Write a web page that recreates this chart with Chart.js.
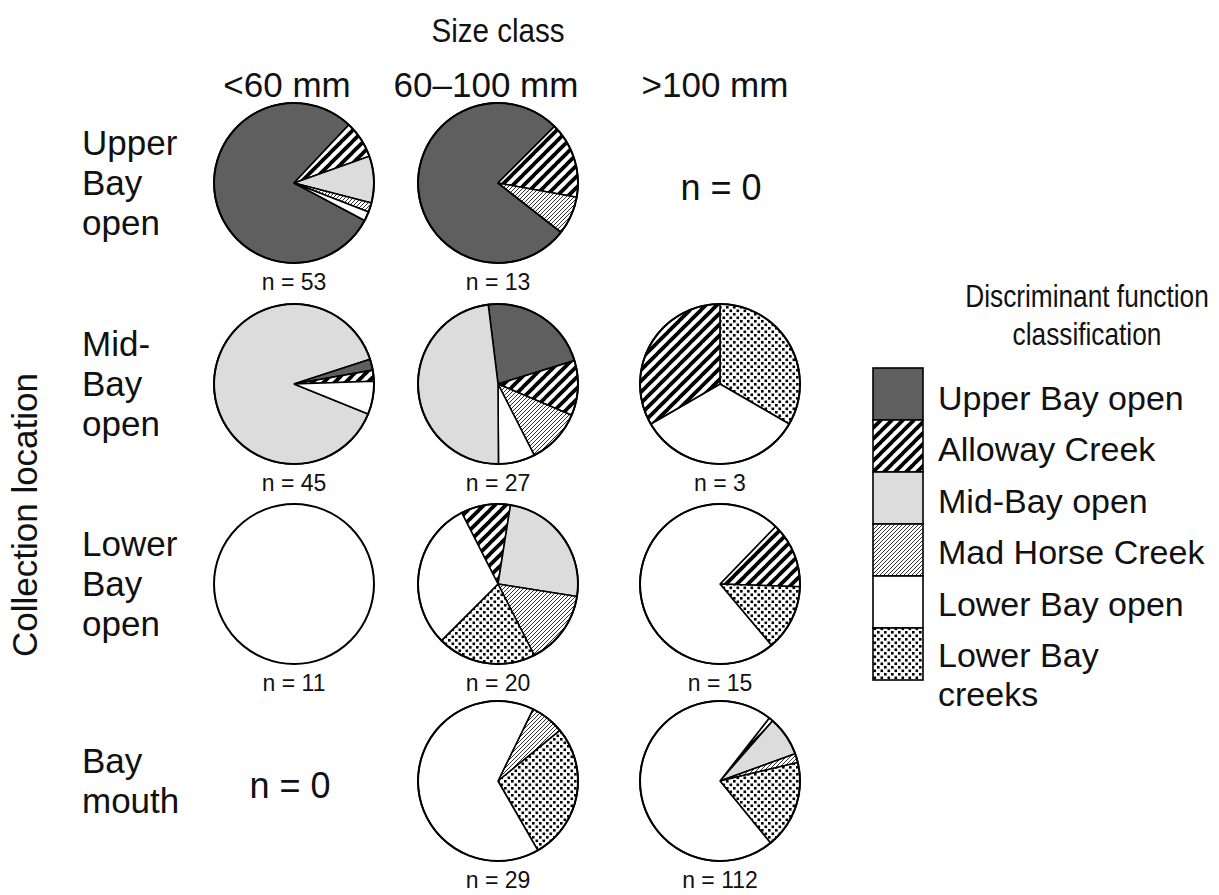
<!DOCTYPE html>
<html>
<head>
<meta charset="utf-8">
<script src="https://cdn.jsdelivr.net/npm/chart.js@4.4.0/dist/chart.umd.min.js"></script>
<style>
  body { margin: 0; background: #fff; font-family: "Liberation Sans", Arial, sans-serif; color: #111; }
  #fig { position: relative; width: 1219px; height: 895px; overflow: hidden; }
  .t { position: absolute; white-space: nowrap; line-height: 1; }
  .c { transform: translate(-50%, -50%); }
  .pie { position: absolute; width: 170px; height: 170px; }
</style>
</head>
<body>
<div id="fig"></div>
<script>
// categories of the discriminant function classification
const categories = ["Upper Bay open", "Alloway Creek", "Mid-Bay open", "Mad Horse Creek", "Lower Bay open", "Lower Bay creeks"];
const sizeClasses = ["<60 mm", "60–100 mm", ">100 mm"];
const locations = [["Upper", "Bay", "open"], ["Mid-", "Bay", "open"], ["Lower", "Bay", "open"], ["Bay", "mouth"]];

// fish counts per category (same order as categories), one array per size class
const upperBay = [[42, 4, 5, 1, 1, 0], [10, 2, 0, 1, 0, 0], [0, 0, 0, 0, 0, 0]];
const midBay   = [[1, 1, 40, 0, 3, 0], [6, 3, 13, 3, 2, 0], [0, 1, 0, 0, 1, 1]];
const lowerBay = [[0, 0, 0, 0, 11, 0], [0, 2, 5, 3, 6, 4], [0, 2, 0, 0, 11, 2]];
const bayMouth = [[0, 0, 0, 0, 0, 0], [0, 0, 0, 2, 19, 8], [0, 1, 9, 2, 80, 20]];
const counts = [upperBay, midBay, lowerBay, bayMouth];

// how each pie is laid out: slice order (clockwise) and start angle in degrees (0 = east)
const sliceOrder = [
  [[0, 1, 2, 3, 4, 5], [0, 1, 2, 3, 4, 5], null],
  [[2, 0, 1, 3, 4, 5], [0, 1, 3, 4, 2, 5], [5, 4, 1]],
  [[4], [1, 2, 3, 5, 4], [1, 5, 4]],
  [null, [3, 5, 4], [1, 2, 3, 5, 4]]
];
const startAngle = [[28, 38, 0], [22, -97, -90], [-90, -117, -46], [0, -64, -52]];

const colX = [294, 498, 720];
const rowY = [183, 384, 584, 781];

// --- fills ---
function makePattern(size, draw) {
  const c = document.createElement("canvas");
  c.width = size; c.height = size;
  const g = c.getContext("2d");
  g.fillStyle = "#fff";
  g.fillRect(0, 0, size, size);
  draw(g, size);
  return g.createPattern(c, "repeat");
}
function diagonal(g, s, w, color) {
  g.strokeStyle = color;
  g.lineWidth = w;
  for (let k = -1; k <= 1; k++) {
    g.beginPath();
    g.moveTo(k * s - 1, s + 1);
    g.lineTo(k * s + s + 1, -1);
    g.stroke();
  }
}
const fills = [
  "#5f5f5f",
  makePattern(11, (g, s) => diagonal(g, s, 3.8, "#000")),
  "#dcdcdc",
  makePattern(4, (g, s) => diagonal(g, s, 1, "#333")),
  "#ffffff",
  makePattern(7, (g) => { g.fillStyle = "#000"; g.fillRect(0, 0, 2.6, 2.6); g.fillRect(3.5, 3.5, 2.6, 2.6); })
];

const fig = document.getElementById("fig");
function addText(txt, x, y, size, extra) {
  const d = document.createElement("div");
  d.className = "t c";
  d.textContent = txt;
  d.style.left = x + "px";
  d.style.top = y + "px";
  d.style.fontSize = size + "px";
  if (extra) Object.assign(d.style, extra);
  fig.appendChild(d);
  return d;
}

// draws the outer ring of each pie
const outline = {
  id: "outline",
  afterDatasetsDraw(chart) {
    const arc = chart.getDatasetMeta(0).data[0];
    if (!arc) return;
    const ctx = chart.ctx;
    ctx.save();
    ctx.beginPath();
    ctx.arc(arc.x, arc.y, arc.outerRadius, 0, Math.PI * 2);
    ctx.lineWidth = 2;
    ctx.strokeStyle = "#000";
    ctx.stroke();
    ctx.restore();
  }
};

// titles (the original lettering is a bit narrower than Arial, hence scaleX)
const narrow = { transform: "translate(-50%, -50%) scaleX(0.87)" };
addText("Size class", 498, 30, 34, narrow);
const headerX = [287, 486, 715];
sizeClasses.forEach((s, i) => addText(s, headerX[i], 84, 35));
addText("Collection location", 24, 515, 35, { transform: "translate(-50%, -50%) rotate(-90deg)" });

locations.forEach((lines, r) => {
  const d = document.createElement("div");
  d.className = "t";
  d.style.left = "82px";
  d.style.top = (rowY[r] - lines.length * 20) + "px";
  d.style.fontSize = "35px";
  d.style.lineHeight = "40px";
  d.innerHTML = lines.join("<br>");
  fig.appendChild(d);
});

// pies
counts.forEach((row, r) => {
  row.forEach((vals, c) => {
    const n = vals.reduce((a, b) => a + b, 0);
    if (n === 0) {
      addText("n = 0", colX[c] + (c === 0 ? -4 : 1), rowY[r] + 5, 36);
      return;
    }
    const order = sliceOrder[r][c].filter(k => vals[k] > 0);
    const box = document.createElement("div");
    box.className = "pie";
    box.style.left = (colX[c] - 85) + "px";
    box.style.top = (rowY[r] - 85) + "px";
    const cv = document.createElement("canvas");
    cv.width = 170; cv.height = 170;
    box.appendChild(cv);
    fig.appendChild(box);
    new Chart(cv, {
      type: "pie",
      data: {
        labels: order.map(k => categories[k]),
        datasets: [{
          data: order.map(k => vals[k]),
          backgroundColor: order.map(k => fills[k]),
          borderColor: "#000",
          borderWidth: order.length > 1 ? 1.6 : 0
        }]
      },
      options: {
        responsive: false,
        animation: false,
        events: [],
        radius: 80,
        rotation: startAngle[r][c] + 90,
        plugins: { legend: { display: false }, tooltip: { enabled: false } }
      },
      plugins: [outline]
    });
    addText("n = " + n, colX[c], rowY[r] + 99, 23);
  });
});

// legend
const titleStyle = { transform: "translate(-50%, -50%) scaleX(0.82)" };
addText("Discriminant function", 1087, 296, 32, titleStyle);
addText("classification", 1087, 334, 32, titleStyle);
const lg = document.createElement("canvas");
lg.width = 56; lg.height = 318;
lg.style.position = "absolute";
lg.style.left = "870px";
lg.style.top = "365px";
fig.appendChild(lg);
const lc = lg.getContext("2d");
const legendY = [398, 449, 501, 552, 604, 655];
categories.forEach((cat, i) => {
  lc.fillStyle = fills[i];
  lc.fillRect(3, 3 + i * 52, 50, 52);
  lc.lineWidth = 1.6;
  lc.strokeStyle = "#000";
  lc.strokeRect(3, 3 + i * 52, 50, 52);
  const left = { transform: "translate(0, -50%)" };
  if (i === 5) {
    addText("Lower Bay", 938, legendY[i], 34, left);
    addText("creeks", 938, legendY[i] + 39, 34, left);
  } else {
    addText(cat, 938, legendY[i], 34, left);
  }
});
</script>
</body>
</html>
